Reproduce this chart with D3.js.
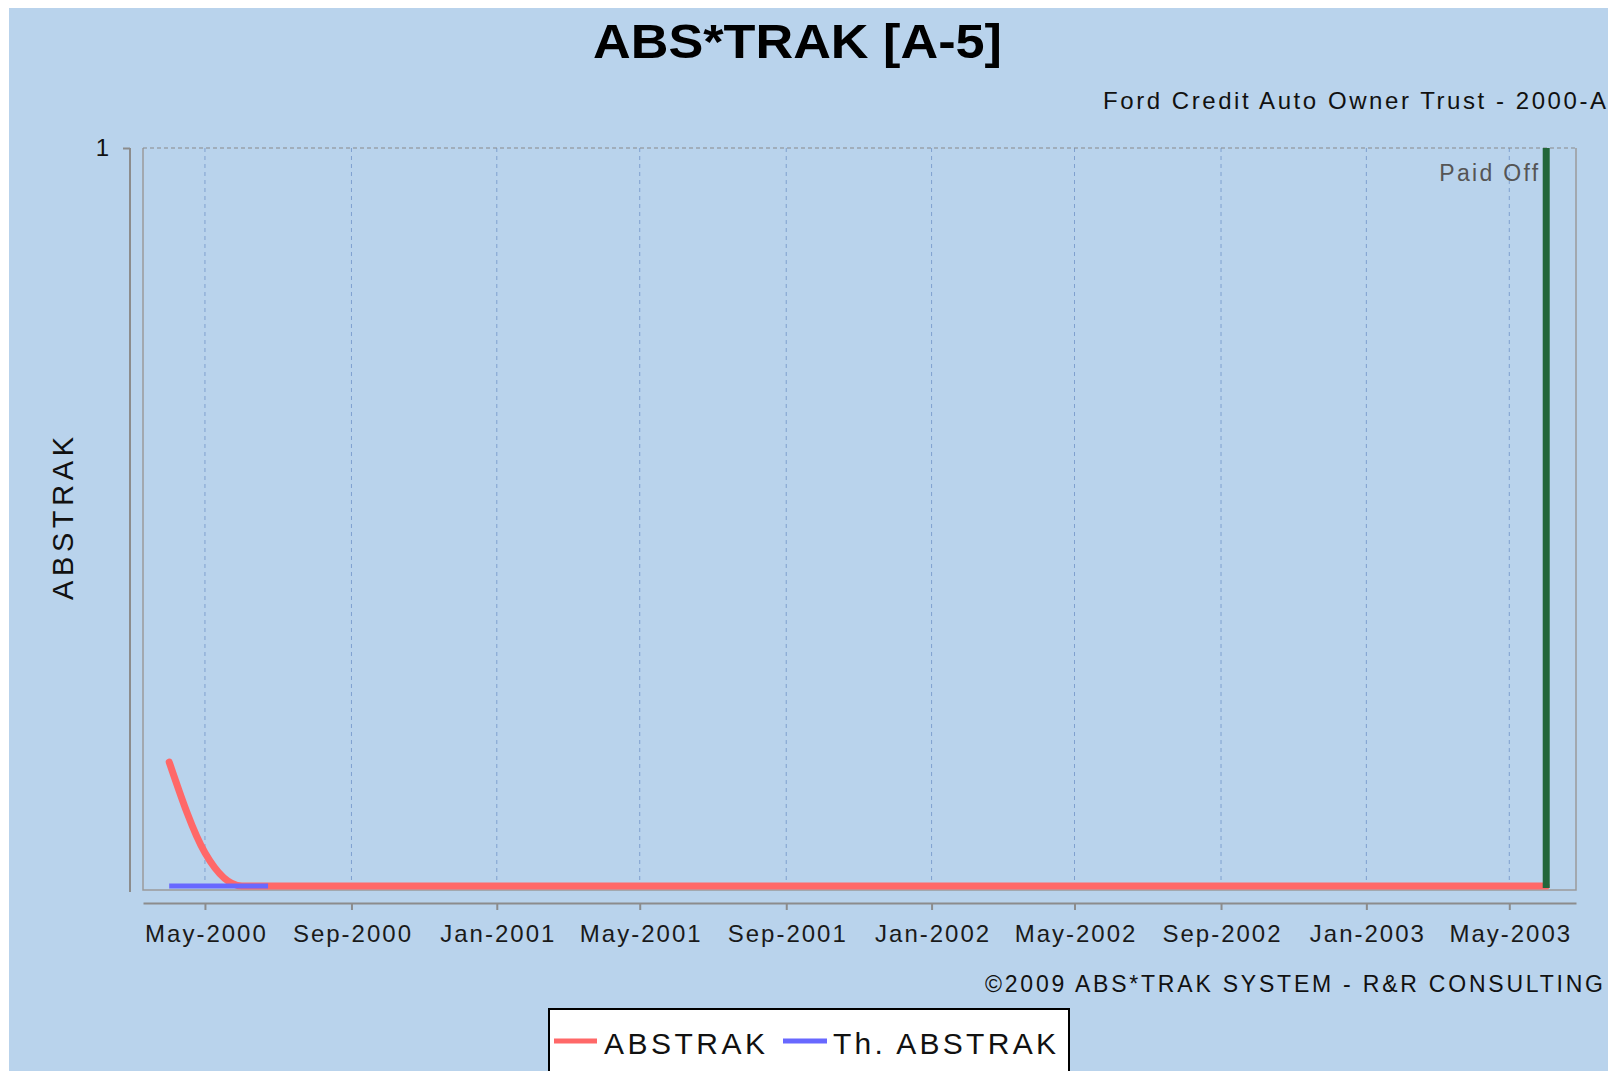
<!DOCTYPE html>
<html>
<head>
<meta charset="utf-8">
<script src="https://cdn.jsdelivr.net/npm/d3@7"></script>
<style>
  html, body { margin: 0; padding: 0; background: #ffffff; }
  svg { display: block; }
  text { font-family: "Liberation Sans", Arial, sans-serif; }
</style>
</head>
<body>
<svg id="chart" width="1614" height="1071"></svg>
<script>
// ---------- data ----------
const titleText = "ABS*TRAK [A-5]";
const subtitleText = "Ford Credit Auto Owner Trust - 2000-A";
const copyrightText = "\u00A92009 ABS*TRAK SYSTEM - R&R CONSULTING";
const yAxisLabel = "ABSTRAK";
const seriesNames = ["ABSTRAK", "Th. ABSTRAK"];

const abstrakDates = [
  "2000-04-01","2000-05-01","2000-06-01","2000-07-01","2000-08-01","2000-09-01",
  "2000-10-01","2000-11-01","2000-12-01","2001-01-01","2001-02-01","2001-03-01",
  "2001-04-01","2001-05-01","2001-06-01","2001-07-01","2001-08-01","2001-09-01",
  "2001-10-01","2001-11-01","2001-12-01","2002-01-01","2002-02-01","2002-03-01",
  "2002-04-01","2002-05-01","2002-06-01","2002-07-01","2002-08-01","2002-09-01",
  "2002-10-01","2002-11-01","2002-12-01","2003-01-01","2003-02-01","2003-03-01",
  "2003-04-01","2003-05-01","2003-06-01"
];
const abstrakValues = [
  0.168, 0.045, 0, 0, 0, 0,
  0, 0, 0, 0, 0, 0,
  0, 0, 0, 0, 0, 0,
  0, 0, 0, 0, 0, 0,
  0, 0, 0, 0, 0, 0,
  0, 0, 0, 0, 0, 0,
  0, 0, 0
];
const thAbstrakDates = ["2000-04-01", "2000-05-01", "2000-06-01", "2000-06-23"];
const thAbstrakValues = [0, 0, 0, 0];

const paidOffDate = "2003-06-01";
const paidOffLabel = "Paid Off";

const xDomain = ["2000-03-10", "2003-06-26"];
const yDomain = [0, 1];
const yTickValues = [1];
const xTickDates = ["2000-05-01","2000-09-01","2001-01-01","2001-05-01","2001-09-01",
                    "2002-01-01","2002-05-01","2002-09-01","2003-01-01","2003-05-01"];
const xTickLabels = ["May-2000","Sep-2000","Jan-2001","May-2001","Sep-2001",
                     "Jan-2002","May-2002","Sep-2002","Jan-2003","May-2003"];

// ---------- layout ----------
const parse = d3.timeParse("%Y-%m-%d");
const svg = d3.select("#chart");
const plot = { left: 143, right: 1576, top: 148, bottom: 890 };
const colors = { bg: "#B9D3EC", red: "#FF6868", blue: "#6868FF", green: "#22663A",
                 grid: "#7FA0CF", border: "#9A9A9A", axis: "#8C8C8C" };

const x = d3.scaleTime().domain(xDomain.map(parse)).range([plot.left, plot.right]);
const y = d3.scaleLinear().domain(yDomain).range([886, plot.top]);

// background
svg.append("rect").attr("x", 9).attr("y", 8).attr("width", 1599).attr("height", 1063)
  .attr("fill", colors.bg);

// title
svg.append("text").attr("x", 797.5).attr("y", 58).attr("text-anchor", "middle")
  .attr("font-size", 49).attr("font-weight", "bold").attr("fill", "#000")
  .attr("textLength", 409).attr("lengthAdjust", "spacingAndGlyphs").text(titleText);

// subtitle
svg.append("text").attr("x", 1606).attr("y", 109).attr("text-anchor", "end")
  .attr("font-size", 24).attr("fill", "#111")
  .attr("textLength", 503).attr("lengthAdjust", "spacing").text(subtitleText);

// vertical grid lines
svg.append("g").selectAll("line").data(xTickDates.map(parse)).join("line")
  .attr("x1", d => x(d)).attr("x2", d => x(d))
  .attr("y1", plot.top).attr("y2", plot.bottom)
  .attr("stroke", colors.grid).attr("stroke-width", 1).attr("stroke-dasharray", "4,4");

// plot border (left, right, bottom solid)
svg.append("path")
  .attr("d", `M${plot.left},${plot.top}V${plot.bottom}H${plot.right}V${plot.top}`)
  .attr("fill", "none").attr("stroke", colors.border).attr("stroke-width", 1.5);
// horizontal grid at y tick (top), dashed gray
svg.append("g").selectAll("line").data(yTickValues).join("line")
  .attr("x1", plot.left).attr("x2", plot.right)
  .attr("y1", d => y(d)).attr("y2", d => y(d))
  .attr("stroke", "#8A8A8A").attr("stroke-width", 1.2).attr("stroke-dasharray", "4,3");

// series lines
const line = d3.line().x(d => x(d.date)).y(d => y(d.value)).curve(d3.curveMonotoneX);
const redData = abstrakDates.map((d, i) => ({ date: parse(d), value: abstrakValues[i] }));
const blueData = thAbstrakDates.map((d, i) => ({ date: parse(d), value: thAbstrakValues[i] }));

svg.append("path").datum(redData).attr("d", line)
  .attr("fill", "none").attr("stroke", colors.red).attr("stroke-width", 7)
  .attr("stroke-linejoin", "round").attr("stroke-linecap", "round");
svg.append("path").datum(blueData).attr("d", line)
  .attr("fill", "none").attr("stroke", colors.blue).attr("stroke-width", 5);

// paid off marker
const px = x(parse(paidOffDate));
svg.append("line").attr("x1", px).attr("x2", px).attr("y1", plot.top).attr("y2", 888)
  .attr("stroke", colors.green).attr("stroke-width", 7);
svg.append("text").attr("x", px - 8).attr("y", 181).attr("text-anchor", "end")
  .attr("font-size", 23).attr("fill", "#555")
  .attr("textLength", 99).attr("lengthAdjust", "spacing").text(paidOffLabel);

// x axis
const xAxis = d3.axisBottom(x).tickValues(xTickDates.map(parse))
  .tickFormat((d, i) => xTickLabels[i]).tickSize(7).tickSizeOuter(0);
const gx = svg.append("g").attr("transform", "translate(0,903)").call(xAxis);
gx.select(".domain").attr("stroke", colors.axis).attr("stroke-width", 2);
gx.selectAll(".tick line").attr("stroke", colors.axis).attr("stroke-width", 2);
gx.selectAll(".tick text").attr("y", 38.5).attr("dy", 0)
  .attr("font-size", 24).attr("fill", "#1a1a1a")
  .attr("font-family", "'Liberation Sans', Arial, sans-serif")
  .attr("letter-spacing", "2px").attr("dx", 1);

// y axis
const yAxis = d3.axisLeft(y).tickValues(yTickValues).tickFormat(d3.format("d"))
  .tickSize(7).tickSizeOuter(0);
const gy = svg.append("g").attr("transform", "translate(130,0)").call(yAxis);
gy.select(".domain").remove();
gy.append("line").attr("x1", 0).attr("x2", 0).attr("y1", plot.top).attr("y2", 892)
  .attr("stroke", colors.axis).attr("stroke-width", 2);
gy.selectAll(".tick line").attr("stroke", colors.axis).attr("stroke-width", 2);
gy.selectAll(".tick text").attr("x", -21).attr("dy", "0.32em")
  .attr("font-size", 24).attr("fill", "#111")
  .attr("font-family", "'Liberation Sans', Arial, sans-serif");

// y axis label
svg.append("text").attr("transform", "translate(73,518.5) rotate(-90)")
  .attr("text-anchor", "middle").attr("font-size", 29).attr("fill", "#111")
  .attr("textLength", 163).attr("lengthAdjust", "spacing").text(yAxisLabel);

// copyright
svg.append("text").attr("x", 1603).attr("y", 992).attr("text-anchor", "end")
  .attr("font-size", 23).attr("fill", "#111")
  .attr("textLength", 618).attr("lengthAdjust", "spacing").text(copyrightText);

// legend
const lg = svg.append("g");
lg.append("rect").attr("x", 549).attr("y", 1009).attr("width", 520).attr("height", 80)
  .attr("fill", "#ffffff").attr("stroke", "#000").attr("stroke-width", 2);
const legendItems = [
  { name: seriesNames[0], color: colors.red, x1: 554, x2: 597, tx: 604, tl: 161 },
  { name: seriesNames[1], color: colors.blue, x1: 783, x2: 827, tx: 833, tl: 223 }
];
legendItems.forEach(it => {
  lg.append("line").attr("x1", it.x1).attr("x2", it.x2).attr("y1", 1041).attr("y2", 1041)
    .attr("stroke", it.color).attr("stroke-width", 5);
  lg.append("text").attr("x", it.tx).attr("y", 1053.5).attr("font-size", 30).attr("fill", "#111")
    .attr("textLength", it.tl).attr("lengthAdjust", "spacing").text(it.name);
});
</script>
</body>
</html>
